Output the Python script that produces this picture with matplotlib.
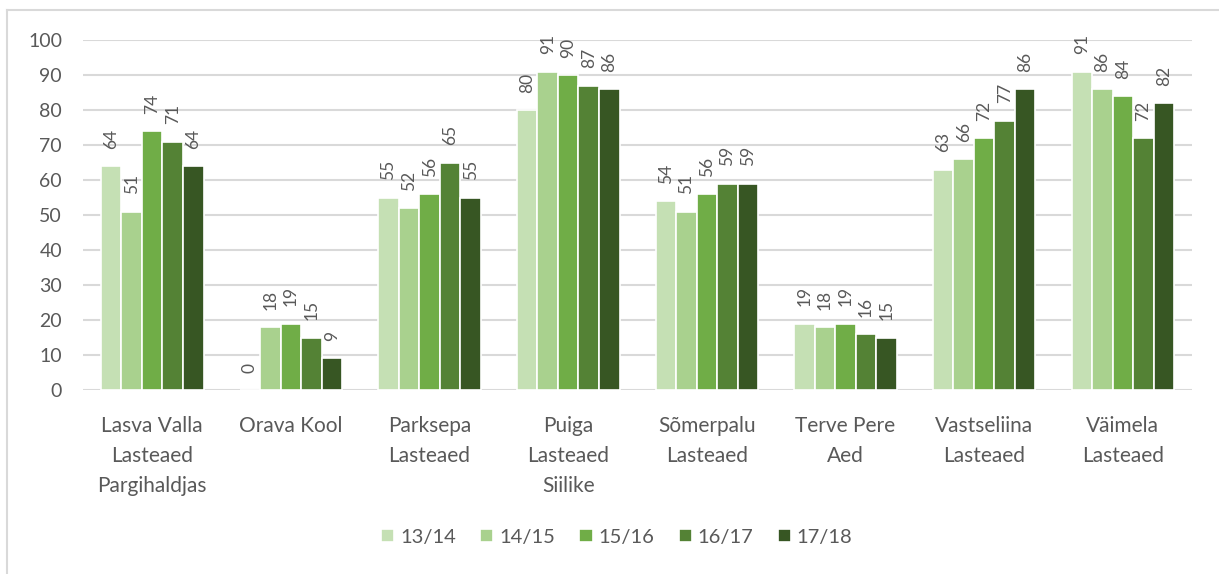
import numpy as np
import matplotlib
matplotlib.use("Agg")
import matplotlib.pyplot as plt
from matplotlib.lines import Line2D

plt.rcParams['font.family'] = ['Lato', 'DejaVu Sans']

# data
categories = ["Lasva Valla\nLasteaed\nPargihaldjas", "Orava Kool", "Parksepa\nLasteaed",
              "Puiga\nLasteaed\nSiilike", "Sõmerpalu\nLasteaed", "Terve Pere\nAed",
              "Vastseliina\nLasteaed", "Väimela\nLasteaed"]
seasons = ["13/14", "14/15", "15/16", "16/17", "17/18"]
v1314 = [64, 0, 55, 80, 54, 19, 63, 91]
v1415 = [51, 18, 52, 91, 51, 18, 66, 86]
v1516 = [74, 19, 56, 90, 56, 19, 72, 84]
v1617 = [71, 15, 65, 87, 59, 16, 77, 72]
v1718 = [64, 9, 55, 86, 59, 15, 86, 82]
colors = ["#C5E0B4", "#A9D18E", "#70AD47", "#548235", "#375623"]

series = [v1314, v1415, v1516, v1617, v1718]
grey = "#595959"

fig = plt.figure(figsize=(12.19, 5.74), dpi=100)
ax = fig.add_axes([0.068, 0.3206, 0.910, 0.6094])

x = np.arange(len(categories))
w = 0.148
for i, (vals, c) in enumerate(zip(series, colors)):
    pos = x + (i - 2) * w
    ax.bar(pos, vals, w, color=c, edgecolor="white", linewidth=1.2, label=seasons[i], zorder=3)
    for px, v in zip(pos, vals):
        ax.annotate(str(v), (px, v), xytext=(0, 12.5), textcoords="offset points",
                    rotation=90, ha="center", va="bottom", fontsize=12.5, color=grey)

ax.set_xlim(-0.5, len(categories) - 0.5)
ax.set_ylim(0, 100)
ax.set_yticks(range(0, 101, 10))
ax.yaxis.grid(True, color="#D9D9D9", linewidth=1.5, zorder=0)
ax.set_axisbelow(True)
for s in ax.spines.values():
    s.set_visible(False)
ax.tick_params(axis="both", length=0, colors=grey)
ax.tick_params(axis="y", pad=15, labelsize=14)
ax.tick_params(axis="x", pad=19, labelsize=15)
ax.set_xticks(x)
ax.set_xticklabels(categories, linespacing=1.6)

ax.legend(loc="center", bbox_to_anchor=(0.506, 0.064), bbox_transform=fig.transFigure,
          ncol=5, frameon=False, fontsize=14.5, labelcolor=grey, handlelength=0.65,
          handleheight=0.65, handletextpad=0.3, columnspacing=1.2)

# chart border (top and left visible in the crop)
fig.add_artist(Line2D([0.006, 0.006], [0.0, 0.983], color="#D9D9D9", linewidth=1.5, transform=fig.transFigure))
fig.add_artist(Line2D([0.006, 1.0], [0.983, 0.983], color="#D9D9D9", linewidth=1.5, transform=fig.transFigure))

fig.savefig("out.png", dpi=100, facecolor="white")
